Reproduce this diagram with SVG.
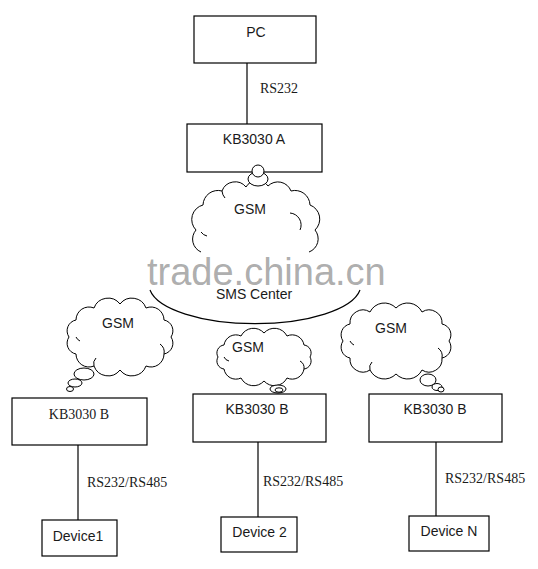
<svg xmlns="http://www.w3.org/2000/svg" width="538" height="569" viewBox="0 0 538 569">
<style>
.box{fill:#fff;stroke:#000;stroke-width:1.2}
.ln{fill:none;stroke:#000;stroke-width:1.2}
.cl{fill:#fff;stroke:#000;stroke-width:1}
.in{fill:none;stroke:#000;stroke-width:1}
.s{font-family:"Liberation Sans",Arial,sans-serif;font-size:14px;fill:#1a1a1a}
.r{font-family:"Liberation Serif","Times New Roman",serif;font-size:14px;fill:#1a1a1a}
.c{text-anchor:middle}
</style>
<rect width="538" height="569" fill="#fff"/>
<g id="connectors">
<line class="ln" x1="247" y1="63" x2="247" y2="124"/>
<line class="ln" x1="78" y1="445" x2="78" y2="520"/>
<line class="ln" x1="258" y1="442" x2="258" y2="517"/>
<line class="ln" x1="436" y1="442" x2="436" y2="516"/>
<text class="r" x="260" y="93">RS232</text>
<text class="r" x="87" y="487">RS232/RS485</text>
<text class="r" x="263" y="486">RS232/RS485</text>
<text class="r" x="445" y="483">RS232/RS485</text>
</g>
<g id="pc"><rect class="box" x="194" y="16" width="122" height="47"/><text class="s c" x="256" y="37">PC</text></g>
<g id="kb-a"><rect class="box" x="187" y="124" width="135" height="48"/><text class="s c" x="254" y="144">KB3030 A</text></g>
<g id="sms-center">
<path class="ln" d="M150,290 A106,39 0 0 0 360,290"/>
<text class="s c" x="254" y="299">SMS Center</text>
</g>
<g id="gsm-top">
<path class="cl" d="M201,252 A14,14 0 0 1 196,230 A15,15 0 0 1 203,205 A15,15 0 0 1 222,191 A14,14 0 0 1 246,187 A13,13 0 0 1 268,186 A14,14 0 0 1 291,191 A15,15 0 0 1 310,205 A15,15 0 0 1 315,230 A14,14 0 0 1 309,252"/>
<path class="in" d="M201,232 A10,10 0 0 0 207,236 M290,213 A12,12 0 0 1 300,230 M222,191 A12,12 0 0 0 225,198"/>
<ellipse class="cl" cx="258" cy="179" rx="10" ry="7"/>
<circle class="cl" cx="258" cy="171" r="6"/>
<text class="s c" x="250" y="214">GSM</text>
</g>
<g id="gsm-left">
<path class="cl" d="M171,337 A11,11 0 0 1 164,354 A13,13 0 0 1 146,366 A15,15 0 0 1 120,370 A15,15 0 0 1 94,366 A13,13 0 0 1 76,354 A11,11 0 0 1 69,337 A11,11 0 0 1 76,320 A13,13 0 0 1 94,308 A15,15 0 0 1 120,304 A15,15 0 0 1 146,308 A13,13 0 0 1 164,320 A11,11 0 0 1 171,337 Z"/>
<path class="in" d="M164,354 A10,10 0 0 0 160,344 M94,366 A8,8 0 0 1 96,358 M76,337 A8,8 0 0 0 80,341"/>
<ellipse class="cl" cx="84" cy="374" rx="10" ry="6"/>
<ellipse class="cl" cx="75" cy="383" rx="7" ry="4"/>
<ellipse class="cl" cx="70" cy="389" rx="3.5" ry="2.5"/>
<text class="s c" x="118" y="328">GSM</text>
</g>
<g id="gsm-mid">
<path class="cl" d="M310,357 A8,8 0 0 1 304,369 A12,12 0 0 1 287,378 A14,14 0 0 1 264,381 A14,14 0 0 1 241,378 A12,12 0 0 1 224,369 A8,8 0 0 1 218,357 A8,8 0 0 1 224,345 A12,12 0 0 1 241,336 A14,14 0 0 1 264,333 A14,14 0 0 1 287,336 A12,12 0 0 1 304,345 A8,8 0 0 1 310,357 Z"/>
<path class="in" d="M304,369 A8,8 0 0 0 300,361 M224,357 A7,7 0 0 0 229,361"/>
<ellipse class="cl" cx="278" cy="389" rx="8" ry="4"/>
<ellipse class="in" cx="279" cy="390" rx="4" ry="2.2"/>
<text class="s c" x="248" y="352">GSM</text>
</g>
<g id="gsm-right">
<path class="cl" d="M449,341 A11,11 0 0 1 442,358 A13,13 0 0 1 422,370 A16,16 0 0 1 396,374 A16,16 0 0 1 370,370 A13,13 0 0 1 350,358 A11,11 0 0 1 343,341 A11,11 0 0 1 350,324 A13,13 0 0 1 370,312 A16,16 0 0 1 396,308 A16,16 0 0 1 422,312 A13,13 0 0 1 442,324 A11,11 0 0 1 449,341 Z"/>
<path class="in" d="M442,358 A10,10 0 0 0 438,348 M370,370 A8,8 0 0 1 372,362 M350,341 A8,8 0 0 0 354,345"/>
<ellipse class="cl" cx="428" cy="380" rx="8" ry="6"/>
<ellipse class="cl" cx="437" cy="387" rx="5" ry="3.5"/>
<ellipse class="cl" cx="441" cy="389.5" rx="3" ry="2.5"/>
<text class="s c" x="391" y="333">GSM</text>
</g>
<g id="kb-b1"><rect class="box" x="12" y="398" width="135" height="47"/><text class="r c" x="79" y="419">KB3030 B</text></g>
<g id="kb-b2"><rect class="box" x="193" y="394" width="133" height="48"/><text class="s c" x="257" y="414">KB3030 B</text></g>
<g id="kb-b3"><rect class="box" x="369" y="394" width="133" height="48"/><text class="s c" x="435" y="414">KB3030 B</text></g>
<g id="device1"><rect class="box" x="42" y="520" width="75" height="36"/><text class="s c" x="78" y="541">Device1</text></g>
<g id="device2"><rect class="box" x="221" y="517" width="76" height="35"/><text class="s c" x="259.5" y="537">Device 2</text></g>
<g id="deviceN"><rect class="box" x="409" y="516" width="80" height="35"/><text class="s c" x="449" y="536">Device N</text></g>
<text x="147" y="285" font-family="'Liberation Sans',Arial,sans-serif" font-size="38" fill="#808080" fill-opacity="0.65">trade.china.cn</text>
</svg>
